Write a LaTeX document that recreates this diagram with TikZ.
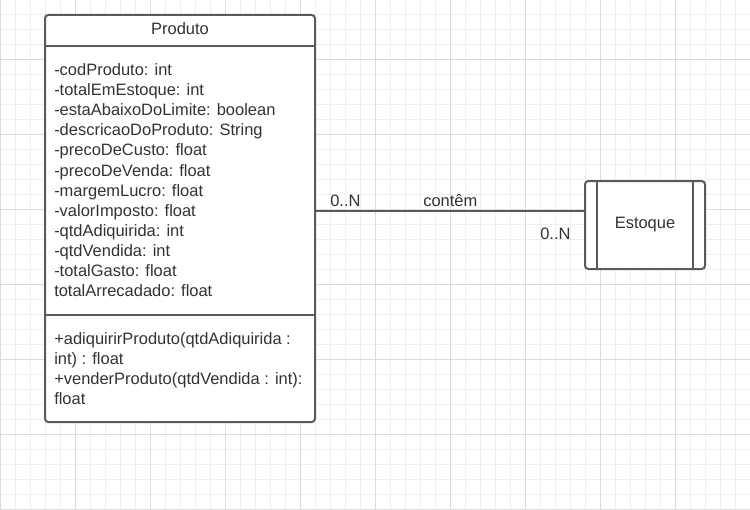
\documentclass[tikz,border=0pt]{standalone}
\usepackage{fontspec}
\setmainfont{Liberation Sans}
\definecolor{linec}{HTML}{5A5A5A}
\definecolor{txtc}{HTML}{333333}
\definecolor{gridminor}{HTML}{EFEFEF}
\definecolor{gridmajor}{HTML}{DCDCDC}
\begin{document}
\begin{tikzpicture}[x=0.75pt,y=-0.75pt,
  txt/.style={text=txtc, font=\fontsize{12.35}{15}\selectfont, inner sep=0pt},
  box/.style={draw=linec, line width=1.5pt, rounded corners=2.5pt, fill=white, inner sep=0pt, outer sep=0pt},
  sep/.style={draw=linec, line width=1.5pt},
  minorgrid/.style={draw=gridminor, line width=0.6pt},
  majorgrid/.style={draw=gridmajor, line width=0.6pt},
  ]
\fill[white] (0,0) rectangle (750,510);
\useasboundingbox (0,0) rectangle (750,510);
\foreach \x in {0,15,...,750} \draw[minorgrid] (\x,0) -- (\x,510);
\foreach \y in {14,29,...,509} \draw[minorgrid] (0,\y) -- (750,\y);
\foreach \x in {0,75,...,750} \draw[majorgrid] (\x,0) -- (\x,510);
\foreach \y in {59,134,...,509} \draw[majorgrid] (0,\y) -- (750,\y);

% Produto class
\node[box, anchor=north west, minimum width=202.5pt, minimum height=305.25pt] (produto) at (45,15) {};
\draw[sep] (produto.west |- 0,46) -- (produto.east |- 0,46);
\draw[sep] (produto.west |- 0,315) -- (produto.east |- 0,315);
\node[txt, anchor=base] (title) at (180,35) {Produto};

\foreach \t [count=\i from 0] in {
  -codProduto: int,
  -totalEmEstoque: int,
  -estaAbaixoDoLimite: boolean,
  -descricaoDoProduto: String,
  -precoDeCusto: float,
  -precoDeVenda: float,
  -margemLucro: float,
  -valorImposto: float,
  -qtdAdiquirida: int,
  -qtdVendida: int,
  -totalGasto: float,
  totalArrecadado: float}
  \node[txt, anchor=base west] (attr\i) at (54,76+20*\i) {\t};

\node[txt, anchor=base west] (m0) at (54,344.5) {+adiquirirProduto(qtdAdiquirida :};
\node[txt, anchor=base west] (m1) at (54,364.5) {int) : float};
\node[txt, anchor=base west] (m2) at (54,384.5) {+venderProduto(qtdVendida : int):};
\node[txt, anchor=base west] (m3) at (54,404.5) {float};

% Estoque
\node[box, anchor=north west, minimum width=90pt, minimum height=66pt] (estoque) at (585,181) {};
\draw[sep] (estoque.north -| 597,0) -- (estoque.south -| 597,0);
\draw[sep] (estoque.north -| 693,0) -- (estoque.south -| 693,0);
\node[txt, anchor=base] (estoquelbl) at (645,228.3) {Estoque};

% connector
\draw[sep] (produto.east |- 0,210.5) -- (estoque.west |- 0,210.5);
\node[txt, anchor=base west] (mult1) at (330,206.7) {0..N};
\node[txt, anchor=base west] (rel) at (423,206.7) {contêm};
\node[txt, anchor=base west] (mult2) at (540,239) {0..N};
\end{tikzpicture}
\end{document}
